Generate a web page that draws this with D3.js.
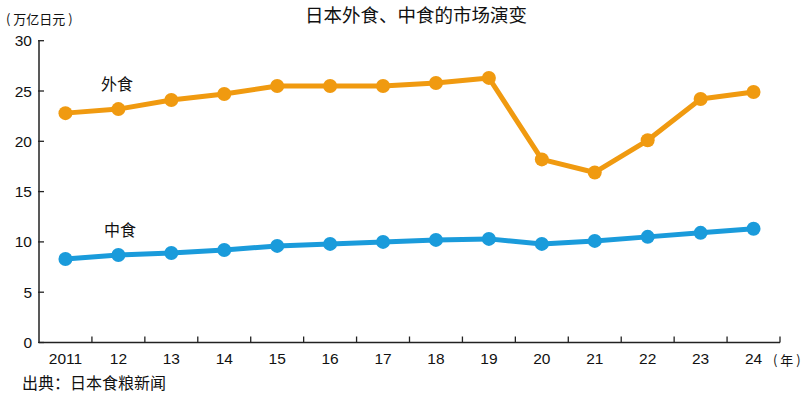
<!DOCTYPE html>
<html>
<head>
<meta charset="utf-8">
<script src="https://cdn.jsdelivr.net/npm/d3@7"></script>
<style>
  body { margin: 0; background: #fff; }
  text { font-family: "Noto Sans CJK SC", "Liberation Sans", sans-serif; fill: #111; }
  .num { font-family: "Liberation Sans", "Noto Sans", sans-serif; }
</style>
</head>
<body>
<svg id="chart" width="810" height="398"></svg>
<script>
const years = ["2011", "12", "13", "14", "15", "16", "17", "18", "19", "20", "21", "22", "23", "24"];
const waishi = [22.8, 23.2, 24.1, 24.7, 25.5, 25.5, 25.5, 25.8, 26.3, 18.2, 16.9, 20.1, 24.2, 24.9];
const zhongshi = [8.3, 8.7, 8.9, 9.2, 9.6, 9.8, 10.0, 10.2, 10.3, 9.8, 10.1, 10.5, 10.9, 11.3];
const yTicks = [0, 5, 10, 15, 20, 25, 30];

const svg = d3.select("#chart");

const x = d3.scaleBand().domain(years).range([39, 780]);
const y = d3.scaleLinear().domain([0, 30]).range([342.5, 40.7]);

// axes
const axisColor = "#222";
svg.append("line")
    .attr("x1", x.range()[0]).attr("x2", x.range()[0])
    .attr("y1", y(30)).attr("y2", y(0))
    .attr("stroke", axisColor).attr("stroke-width", 1.5);
svg.append("line")
    .attr("x1", x.range()[0]).attr("x2", x.range()[1])
    .attr("y1", y(0)).attr("y2", y(0))
    .attr("stroke", axisColor).attr("stroke-width", 1.5);

// y ticks
svg.selectAll("line.ytick")
    .data(yTicks)
    .enter().append("line")
    .attr("class", "ytick")
    .attr("x1", 38).attr("x2", 44)
    .attr("y1", d => y(d)).attr("y2", d => y(d))
    .attr("stroke", axisColor).attr("stroke-width", 1.3);
svg.selectAll("text.ylab")
    .data(yTicks)
    .enter().append("text")
    .attr("class", "ylab num")
    .attr("x", 32).attr("y", d => y(d) + 5.5)
    .attr("text-anchor", "end")
    .attr("font-size", 15.5)
    .text(d => d);

// x ticks at band boundaries
const bounds = years.map(d => x(d) + x.bandwidth());
svg.selectAll("line.xtick")
    .data(bounds)
    .enter().append("line")
    .attr("class", "xtick")
    .attr("x1", d => d).attr("x2", d => d)
    .attr("y1", y(0) - 6).attr("y2", y(0))
    .attr("stroke", axisColor).attr("stroke-width", 1.3);
svg.selectAll("text.xlab")
    .data(years)
    .enter().append("text")
    .attr("class", "xlab num")
    .attr("x", d => x(d) + x.bandwidth() / 2)
    .attr("y", 364)
    .attr("text-anchor", "middle")
    .attr("font-size", 15.5)
    .text(d => d);

// series
const series = [
    {name: "外食", values: waishi, color: "#F09A10", lx: 101, ly: 90},
    {name: "中食", values: zhongshi, color: "#1A9BDB", lx: 104, ly: 236}
];
const line = d3.line()
    .x((d, i) => x(years[i]) + x.bandwidth() / 2)
    .y(d => y(d));

series.forEach(s => {
    const g = svg.append("g");
    g.append("path")
        .attr("d", line(s.values))
        .attr("fill", "none")
        .attr("stroke", s.color)
        .attr("stroke-width", 5)
        .attr("stroke-linejoin", "round");
    g.selectAll("circle")
        .data(s.values)
        .enter().append("circle")
        .attr("cx", (d, i) => x(years[i]) + x.bandwidth() / 2)
        .attr("cy", d => y(d))
        .attr("r", 7)
        .attr("fill", s.color);
    svg.append("text")
        .attr("x", s.lx).attr("y", s.ly)
        .attr("font-size", 16)
        .text(s.name);
});

// titles and notes
svg.append("text")
    .attr("x", 416).attr("y", 22)
    .attr("text-anchor", "middle")
    .attr("font-size", 18.5)
    .text("日本外食、中食的市场演变");
svg.append("text")
    .attr("x", 6).attr("y", 24)
    .attr("font-size", 13)
    .attr("xml:space", "preserve")
    .style("white-space", "pre")
    .text("( 万亿日元 )");
svg.append("text")
    .attr("x", 773).attr("y", 365)
    .attr("font-size", 13)
    .style("white-space", "pre")
    .text("( 年 )");
svg.append("text")
    .attr("x", 22).attr("y", 389)
    .attr("font-size", 16)
    .text("出典：日本食粮新闻");
</script>
</body>
</html>
